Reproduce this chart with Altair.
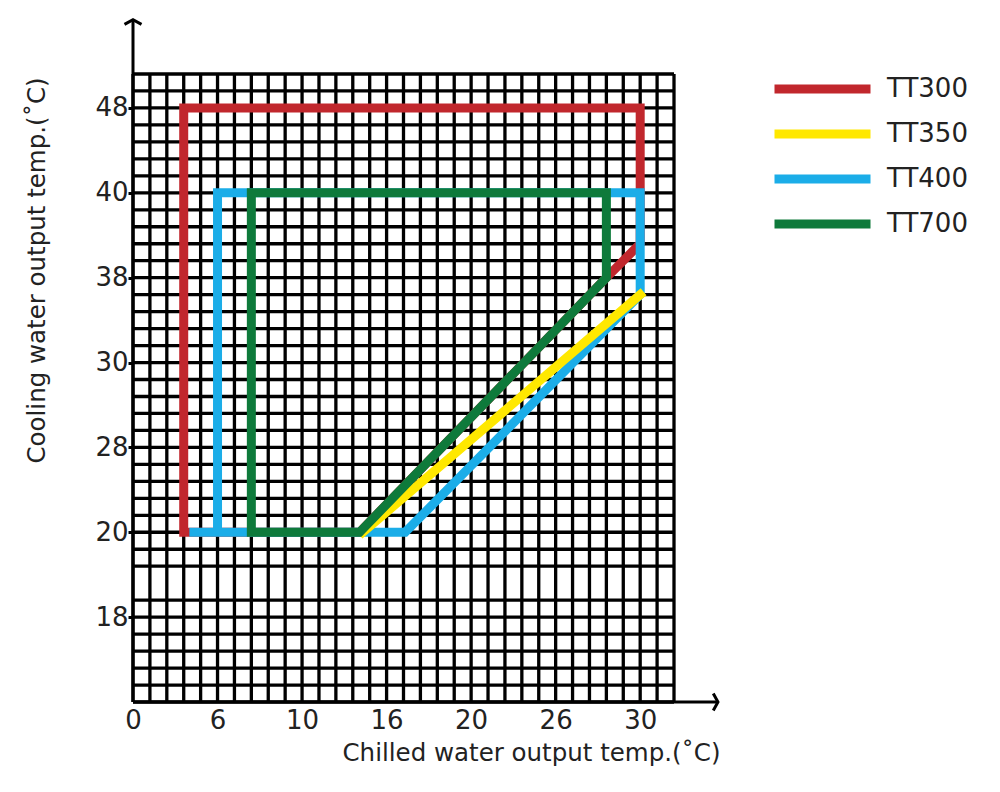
import json
import altair as alt
import pandas as pd

# series, in grid units (one grid cell = one unit)
series_names = ["TT300", "TT350", "TT400", "TT700"]
series_colors = ["#C1272D", "#FFE800", "#1BADE8", "#0E7A3B"]

tt300_x = [3, 3, 30, 30, 28, 13.4, 3]
tt300_y = [10, 35, 35, 27, 25, 10, 10]
tt350_x = [13.6, 30]
tt350_y = [10, 24]
tt400_x = [3.6, 16.1, 30, 30, 5, 5]
tt400_y = [10, 10, 24, 30, 30, 10]
tt700_x = [7, 7, 28, 28, 13.4, 7]
tt700_y = [10, 30, 30, 25, 10, 10]

# grid lines (one horizontal line missing near the bottom)
grid_x = [0, 1, 2, 3, 4, 5, 6, 7, 8, 9, 10, 11, 12, 13, 14, 15, 16,
          17, 18, 19, 20, 21, 22, 23, 24, 25, 26, 27, 28, 29, 30, 31, 32]
grid_y = [0, 1, 2, 3, 4, 5, 6, 8, 9, 10, 11, 12, 13, 14, 15, 16, 17, 18,
          19, 20, 21, 22, 23, 24, 25, 26, 27, 28, 29, 30, 31, 32, 33, 34, 35, 36, 37]

x_tick_pos = [0, 5, 10, 15, 20, 25, 30]
x_tick_labels = ["0", "6", "10", "16", "20", "26", "30"]
y_tick_pos = [5, 10, 15, 20, 25, 30, 35]
y_tick_labels = ["18", "20", "28", "30", "38", "40", "48"]

x_max = 32
y_max = 37
x_arrow_tip = 34.6
y_arrow_tip = 40.2

FONT = "DejaVu Sans"
TXT = "#222222"

xs = alt.Scale(domain=[0, x_max], nice=False, zero=False)
ys = alt.Scale(domain=[0, y_max], nice=False, zero=False)

x_axis = alt.Axis(
    values=x_tick_pos,
    labelExpr=f"{json.dumps(x_tick_labels)}[indexof({json.dumps(x_tick_pos)}, datum.value)]",
    title="Chilled water output temp.(˚C)",
    domain=False, ticks=False, grid=False, labelFlush=False,
    labelFontSize=26, labelPadding=5, labelColor=TXT, labelFont=FONT,
    titleFontSize=24.5, titleFontWeight="normal", titleColor=TXT, titleFont=FONT,
    titleX=398, titleY=51, titleBaseline="middle", titleAlign="center",
)
y_axis = alt.Axis(
    values=y_tick_pos,
    labelExpr=f"{json.dumps(y_tick_labels)}[indexof({json.dumps(y_tick_pos)}, datum.value)]",
    title="Cooling water output temp.(˚C)",
    domain=False, ticks=True, tickSize=5, tickWidth=3, tickColor="black", grid=False,
    labelFlush=False,
    labelFontSize=26, labelPadding=0, labelColor=TXT, labelFont=FONT,
    titleFontSize=24.5, titleFontWeight="normal", titleColor=TXT, titleFont=FONT,
    titleX=-96, titleY=196, titleAngle=-90, titleBaseline="middle", titleAlign="center",
)

legend = alt.Legend(
    title=None, orient="none", legendX=637, legendY=-3,
    symbolType="stroke", symbolSize=9216, symbolStrokeWidth=9,
    labelFontSize=26, labelFont=FONT, labelColor=TXT, labelOffset=12,
    clipHeight=36, rowPadding=9, padding=0,
)

# grid
vgrid = alt.Chart(pd.DataFrame({"gx": grid_x, "y0": 0, "y1": y_max})).mark_rule(
    color="black", strokeWidth=3.3
).encode(
    x=alt.X("gx:Q", scale=xs, axis=x_axis),
    y=alt.Y("y0:Q", scale=ys, axis=y_axis),
    y2="y1:Q",
)
hgrid = alt.Chart(pd.DataFrame({"gy": grid_y, "x0": 0, "x1": x_max})).mark_rule(
    color="black", strokeWidth=3.3
).encode(
    y=alt.Y("gy:Q", scale=ys, axis=y_axis),
    x=alt.X("x0:Q", scale=xs, axis=x_axis),
    x2="x1:Q",
)

# axis arrows
axis_df = pd.DataFrame({"x": [0, 0], "y": [0, 0], "x2": [0, x_arrow_tip], "y2": [y_arrow_tip, 0]})
axis_lines = alt.Chart(axis_df).mark_rule(color="black", strokeWidth=3).encode(
    x=alt.X("x:Q", scale=xs, axis=x_axis),
    y=alt.Y("y:Q", scale=ys, axis=y_axis),
    x2="x2:Q", y2="y2:Q",
)
head_df = pd.DataFrame({"x": [0, x_arrow_tip], "y": [y_arrow_tip, 0], "angle": [0, 90]})
heads = alt.Chart(head_df).mark_point(
    shape="M-1,0.55L0,0L1,0.55", filled=False, strokeWidth=3, size=289,
    color="black", opacity=1, strokeJoin="miter",
).encode(
    x=alt.X("x:Q", scale=xs, axis=x_axis),
    y=alt.Y("y:Q", scale=ys, axis=y_axis),
    angle=alt.Angle("angle:Q", scale=None),
)


def series_layer(name, px, py):
    df = pd.DataFrame({"x": px, "y": py, "i": list(range(len(px))), "series": name})
    return alt.Chart(df).mark_line(
        strokeWidth=9, strokeCap="square", strokeJoin="miter"
    ).encode(
        x=alt.X("x:Q", scale=xs, axis=x_axis),
        y=alt.Y("y:Q", scale=ys, axis=y_axis),
        order="i:Q",
        color=alt.Color("series:N",
                        scale=alt.Scale(domain=series_names, range=series_colors),
                        legend=legend),
    )


red = series_layer("TT300", tt300_x, tt300_y)
blue = series_layer("TT400", tt400_x, tt400_y)
yellow = series_layer("TT350", tt350_x, tt350_y)
green = series_layer("TT700", tt700_x, tt700_y)

chart = alt.layer(vgrid, hgrid, axis_lines, heads, red, blue, yellow, green).properties(
    width=541,
    height=628,
    autosize=alt.AutoSizeParams(type="none"),
    padding={"left": 125, "top": 66, "right": 318, "bottom": 82},
    background="white",
).configure_view(stroke=None)

chart.save("out.html", embed_options={"renderer": "svg", "actions": False})
